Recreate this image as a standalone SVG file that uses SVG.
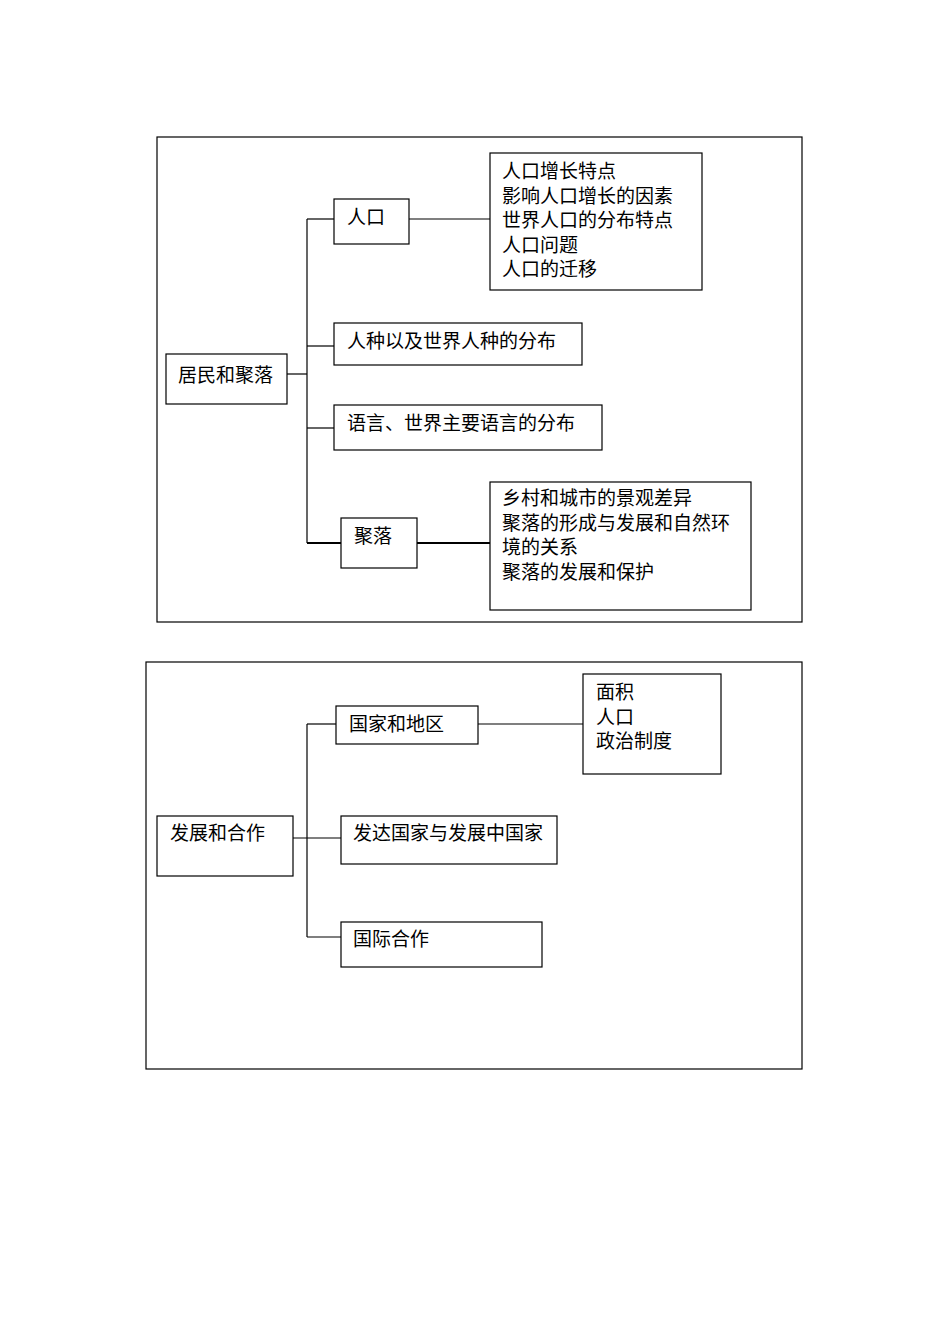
<svg xmlns="http://www.w3.org/2000/svg" width="950" height="1344" viewBox="0 0 950 1344">
<style>
rect{fill:#fff;stroke:#000;stroke-width:1.2}
text{font-family:"Noto Sans CJK SC","Liberation Serif",serif;font-size:19px;fill:#000}
line{stroke:#000;stroke-width:1.2}
.t{stroke-width:2}
</style>
<rect width="950" height="1344" style="stroke:none"/>
<g id="panel1"><rect x="157" y="137" width="645" height="485"/></g>
<g id="panel2"><rect x="146" y="662" width="656" height="407"/></g>
<g id="connectors">
<line x1="287" y1="374" x2="307" y2="374"/>
<line x1="307" y1="219" x2="307" y2="543"/>
<line x1="307" y1="219" x2="334" y2="219"/>
<line x1="409" y1="219" x2="490" y2="219"/>
<line x1="307" y1="346" x2="334" y2="346"/>
<line x1="307" y1="428" x2="334" y2="428"/>
<line class="t" x1="307" y1="543" x2="341" y2="543"/>
<line class="t" x1="417" y1="543" x2="490" y2="543"/>
<line x1="293" y1="838" x2="341" y2="838"/>
<line x1="307" y1="724" x2="307" y2="937"/>
<line x1="307" y1="724" x2="336" y2="724"/>
<line x1="478" y1="724" x2="583" y2="724"/>
<line x1="307" y1="937" x2="341" y2="937"/>
</g>
<g id="n1"><rect x="166" y="354" width="121" height="50"/><text x="178" y="382">居民和聚落</text></g>
<g id="n2"><rect x="334" y="199" width="75" height="45"/><text x="347" y="224">人口</text></g>
<g id="n3"><rect x="490" y="153" width="212" height="137"/>
<text x="502" y="178">人口增长特点</text><text x="502" y="203">影响人口增长的因素</text><text x="502" y="227">世界人口的分布特点</text><text x="502" y="252">人口问题</text><text x="502" y="276">人口的迁移</text></g>
<g id="n4"><rect x="334" y="323" width="248" height="42"/><text x="347" y="348">人种以及世界人种的分布</text></g>
<g id="n5"><rect x="334" y="405" width="268" height="45"/><text x="347" y="430">语言、世界主要语言的分布</text></g>
<g id="n6"><rect x="341" y="518" width="76" height="50"/><text x="354" y="543">聚落</text></g>
<g id="n7"><rect x="490" y="482" width="261" height="128"/>
<text x="502" y="505">乡村和城市的景观差异</text><text x="502" y="530">聚落的形成与发展和自然环</text><text x="502" y="554">境的关系</text><text x="502" y="579">聚落的发展和保护</text></g>
<g id="m1"><rect x="157" y="816" width="136" height="60"/><text x="170" y="840">发展和合作</text></g>
<g id="m2"><rect x="336" y="706" width="142" height="38"/><text x="349" y="731">国家和地区</text></g>
<g id="m3"><rect x="583" y="674" width="138" height="100"/><text x="596" y="699">面积</text><text x="596" y="724">人口</text><text x="596" y="748">政治制度</text></g>
<g id="m4"><rect x="341" y="816" width="216" height="48"/><text x="353" y="840">发达国家与发展中国家</text></g>
<g id="m5"><rect x="341" y="922" width="201" height="45"/><text x="353" y="946">国际合作</text></g>
</svg>
